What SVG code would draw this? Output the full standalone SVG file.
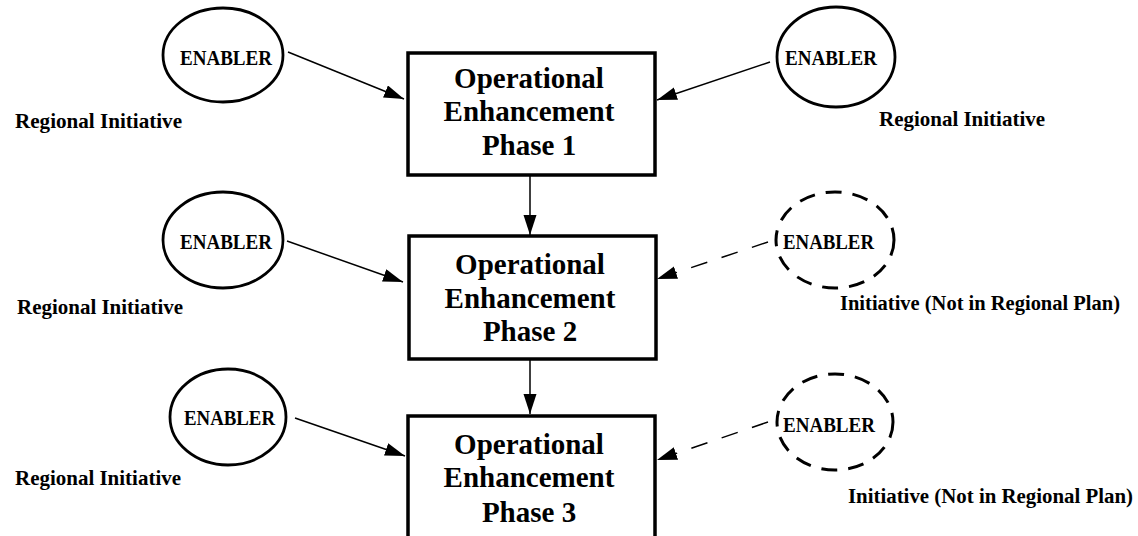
<svg xmlns="http://www.w3.org/2000/svg" width="1138" height="536" viewBox="0 0 1138 536">
<style>
text{font-family:"Liberation Serif","Times New Roman",serif;font-weight:bold;fill:#000}
.box{fill:#fff;stroke:#000;stroke-width:3.5}
.en{fill:#fff;stroke:#000;stroke-width:2.8}
.end{fill:none;stroke:#000;stroke-width:3;stroke-dasharray:16 11}
.bt{font-size:29px;text-anchor:middle}
.et{font-size:22px}
.lt{font-size:21px}
.nt{font-size:20px}
.c{stroke:#000;stroke-width:1.5;fill:none;marker-end:url(#ah)}
.cd{stroke:#000;stroke-width:1.5;fill:none;stroke-dasharray:17 15;marker-end:url(#ah)}
</style>
<defs>
<marker id="ah" markerUnits="userSpaceOnUse" markerWidth="21" markerHeight="14" refX="20" refY="6.5" orient="auto">
<path d="M0,0 L20,6.5 L0,13 z" fill="#000"/>
</marker>
</defs>
<rect width="1138" height="536" fill="#fff"/>
<g id="connectors">
<line class="c" x1="288" y1="52" x2="404" y2="99"/>
<line class="c" x1="770" y1="62" x2="657" y2="100"/>
<line class="c" x1="530" y1="175" x2="530" y2="235"/>
<line class="c" x1="530" y1="359" x2="530" y2="414"/>
<line class="c" x1="287" y1="241" x2="403" y2="282"/>
<line class="cd" x1="768" y1="242" x2="657" y2="279"/>
<line class="c" x1="295" y1="418" x2="405" y2="456"/>
<line class="cd" x1="768" y1="422" x2="657" y2="460"/>
</g>
<g id="phase1">
<rect class="box" x="408" y="53" width="247" height="122"/>
<text class="bt" x="529" y="88">Operational</text>
<text class="bt" x="529" y="121">Enhancement</text>
<text class="bt" x="529" y="155">Phase 1</text>
</g>
<g id="phase2">
<rect class="box" x="409" y="236" width="247" height="123"/>
<text class="bt" x="530" y="274">Operational</text>
<text class="bt" x="530" y="308">Enhancement</text>
<text class="bt" x="530" y="341">Phase 2</text>
</g>
<g id="phase3">
<rect class="box" x="408" y="416" width="247" height="140"/>
<text class="bt" x="529" y="454">Operational</text>
<text class="bt" x="529" y="487">Enhancement</text>
<text class="bt" x="529" y="522">Phase 3</text>
</g>
<g id="enabler1">
<ellipse class="en" cx="223" cy="55" rx="60" ry="47"/>
<text class="et" x="180" y="65" textLength="92" lengthAdjust="spacingAndGlyphs">ENABLER</text>
<text class="lt" x="15" y="128" textLength="167" lengthAdjust="spacingAndGlyphs">Regional Initiative</text>
</g>
<g id="enabler2">
<ellipse class="en" cx="836" cy="57" rx="59" ry="50"/>
<text class="et" x="785" y="65" textLength="92" lengthAdjust="spacingAndGlyphs">ENABLER</text>
<text class="lt" x="879" y="126" textLength="166" lengthAdjust="spacingAndGlyphs">Regional Initiative</text>
</g>
<g id="enabler3">
<ellipse class="en" cx="223" cy="240" rx="60" ry="48"/>
<text class="et" x="180" y="249" textLength="92" lengthAdjust="spacingAndGlyphs">ENABLER</text>
<text class="lt" x="17" y="314" textLength="166" lengthAdjust="spacingAndGlyphs">Regional Initiative</text>
</g>
<g id="enabler4">
<ellipse class="end" cx="835" cy="240" rx="59" ry="48"/>
<text class="et" x="783" y="249" textLength="91" lengthAdjust="spacingAndGlyphs">ENABLER</text>
<text class="nt" x="840" y="310" textLength="280" lengthAdjust="spacingAndGlyphs">Initiative (Not in Regional Plan)</text>
</g>
<g id="enabler5">
<ellipse class="en" cx="228" cy="417" rx="58" ry="48"/>
<text class="et" x="184" y="425" textLength="91" lengthAdjust="spacingAndGlyphs">ENABLER</text>
<text class="lt" x="15" y="485" textLength="166" lengthAdjust="spacingAndGlyphs">Regional Initiative</text>
</g>
<g id="enabler6">
<ellipse class="end" cx="835" cy="422" rx="58" ry="48"/>
<text class="et" x="783" y="432" textLength="92" lengthAdjust="spacingAndGlyphs">ENABLER</text>
<text class="nt" x="848" y="503" textLength="285" lengthAdjust="spacingAndGlyphs">Initiative (Not in Regional Plan)</text>
</g>
</svg>
